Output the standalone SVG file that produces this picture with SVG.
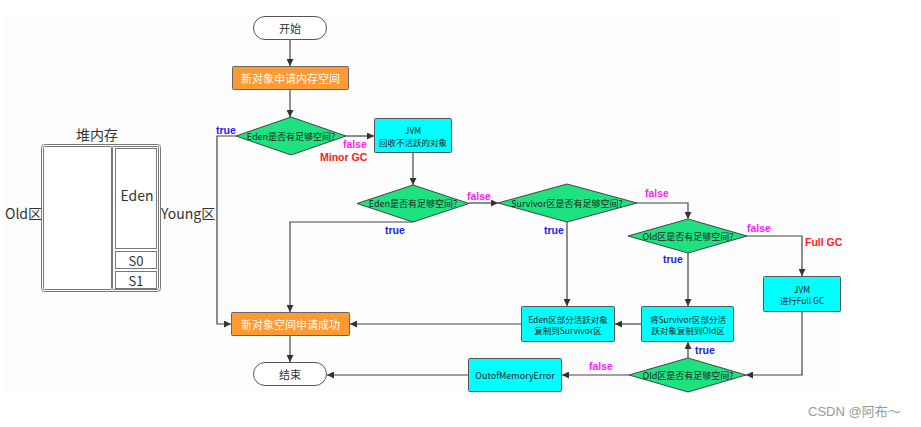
<svg xmlns="http://www.w3.org/2000/svg" width="921" height="427" viewBox="0 0 921 427">
<defs>
<marker id="ah" viewBox="0 0 10 10" refX="10" refY="5" markerWidth="7" markerHeight="7" markerUnits="userSpaceOnUse" orient="auto">
<path d="M0,0 L10,5 L0,10 z" fill="#333"/>
</marker>
<style>
text{font-family:"Noto Sans CJK SC","Noto Sans",sans-serif;}
.term{fill:#fff;stroke:#555;stroke-width:1;}
.orange{fill:#FF9933;stroke:#666;stroke-width:1;}
.cyan{fill:#00FFFF;stroke:#555;stroke-width:1;}
.dia{fill:#1DE27F;stroke:#444;stroke-width:1;}
.heap{fill:#fff;stroke:#777;stroke-width:1;}
.t{font-size:11px;fill:#333;text-anchor:middle;dominant-baseline:central;}
.tw{font-size:11px;fill:#fff;text-anchor:middle;dominant-baseline:central;}
.td{font-size:9px;fill:#222;text-anchor:middle;dominant-baseline:central;}
.tb{font-size:8.5px;fill:#222;text-anchor:middle;dominant-baseline:central;}
.h{font-size:14px;fill:#333;dominant-baseline:central;}
.lt,.lf,.lr{font-family:"Liberation Sans",Arial,sans-serif;font-size:10.5px;font-weight:bold;}
.lt{fill:#2222EE;}
.lf{fill:#FF22FF;}
.lr{fill:#FF2020;}
.c{fill:none;stroke:#444;stroke-width:1.2;}
</style>
</defs>
<rect x="0" y="0" width="921" height="427" fill="#fff"/>
<rect x="4" y="14" width="838" height="379" fill="#fdfdfd"/>

<g id="heap">
<text class="h" x="97" y="134" text-anchor="middle">堆内存</text>
<rect class="heap" x="41.5" y="144.5" width="119" height="147" rx="3"/>
<rect class="heap" x="43.5" y="146.5" width="68" height="143" rx="1"/>
<rect class="heap" x="112.5" y="146.5" width="46" height="143" rx="1"/>
<rect class="heap" x="115.5" y="148.5" width="41" height="100"/>
<rect class="heap" x="115.5" y="251.5" width="41" height="17"/>
<rect class="heap" x="115.5" y="271.5" width="41" height="17"/>
<text class="h" x="137" y="195" text-anchor="middle">Eden</text>
<text class="h" x="136" y="260" text-anchor="middle" style="font-size:13px">S0</text>
<text class="h" x="136" y="280" text-anchor="middle" style="font-size:13px">S1</text>
<text class="h" x="5" y="213">Old区</text>
<text class="h" x="161" y="213">Young区</text>
</g>

<g id="connectors">
<path class="c" d="M290,39 V66" marker-end="url(#ah)"/>
<path class="c" d="M290,90 V117" marker-end="url(#ah)"/>
<path class="c" d="M236,136 H217 V324 H231" marker-end="url(#ah)"/>
<path class="c" d="M346,136 H374" marker-end="url(#ah)"/>
<path class="c" d="M413,153 V185" marker-end="url(#ah)"/>
<path class="c" d="M413,222 H290 V312" marker-end="url(#ah)"/>
<path class="c" d="M469,203 H498" marker-end="url(#ah)"/>
<path class="c" d="M567,222 V306" marker-end="url(#ah)"/>
<path class="c" d="M637,203 H688 V219" marker-end="url(#ah)"/>
<path class="c" d="M688,253 V306" marker-end="url(#ah)"/>
<path class="c" d="M747,236 H802 V276" marker-end="url(#ah)"/>
<path class="c" d="M521,324 H350" marker-end="url(#ah)"/>
<path class="c" d="M641,324 H615" marker-end="url(#ah)"/>
<path class="c" d="M688,358 V342" marker-end="url(#ah)"/>
<path class="c" d="M802,312 V375 H746" marker-end="url(#ah)"/>
<path class="c" d="M629,375 H562" marker-end="url(#ah)"/>
<path class="c" d="M468,375 H327" marker-end="url(#ah)"/>
<path class="c" d="M290,336 V362" marker-end="url(#ah)"/>
<text class="lt" x="216" y="134">true</text>
<text class="lf" x="343" y="148">false</text>
<text class="lr" x="320" y="161">Minor GC</text>
<text class="lf" x="467" y="200">false</text>
<text class="lt" x="385" y="234">true</text>
<text class="lt" x="544" y="234">true</text>
<text class="lf" x="645" y="197">false</text>
<text class="lf" x="747" y="232">false</text>
<text class="lr" x="805" y="246">Full GC</text>
<text class="lt" x="663" y="263">true</text>
<text class="lt" x="695" y="354">true</text>
<text class="lf" x="589" y="370">false</text>
</g>

<g id="start">
<rect class="term" x="253.5" y="16.5" width="73" height="23" rx="11.5"/>
<text class="t" x="290" y="28">开始</text>
</g>
<g id="alloc">
<rect class="orange" x="232.5" y="66.5" width="116" height="23" rx="1"/>
<text class="tw" x="290.5" y="78">新对象申请内存空间</text>
</g>
<g id="d1">
<polygon class="dia" points="291,117 346,136 291,155 236,136"/>
<text class="td" x="291" y="136">Eden是否有足够空间?</text>
</g>
<g id="jvm1">
<rect class="cyan" x="374.5" y="118.5" width="77" height="34" rx="1"/>
<text class="tb" x="413" y="130">JVM</text>
<text class="tb" x="413" y="142">回收不活跃的对象</text>
</g>
<g id="d2">
<polygon class="dia" points="413,185 469,203.5 413,222 357,203.5"/>
<text class="td" x="413" y="203.5">Eden是否有足够空间?</text>
</g>
<g id="d3">
<polygon class="dia" points="567,184 637,203 567,222 498,203"/>
<text class="td" x="567" y="203">Survivor区是否有足够空间?</text>
</g>
<g id="d4">
<polygon class="dia" points="688,219 747,236 688,253 628,236"/>
<text class="td" x="688" y="236">Old区是否有足够空间?</text>
</g>
<g id="jvmfull">
<rect class="cyan" x="763.5" y="276.5" width="77" height="35" rx="1"/>
<text class="tb" x="802" y="289">JVM</text>
<text class="tb" x="802" y="299.5">进行Full GC</text>
</g>
<g id="edencopy">
<rect class="cyan" x="521.5" y="306.5" width="93" height="35" rx="1"/>
<text class="tb" x="568" y="319">Eden区部分活跃对象</text>
<text class="tb" x="568" y="329.5">复制到Survivor区</text>
</g>
<g id="survcopy">
<rect class="cyan" x="641.5" y="306.5" width="92" height="35" rx="1"/>
<text class="tb" x="688" y="319">将Survivor区部分活</text>
<text class="tb" x="688" y="330">跃对象复制到Old区</text>
</g>
<g id="d5">
<polygon class="dia" points="688,358 746,375 688,392 629,375"/>
<text class="td" x="688" y="375">Old区是否有足够空间?</text>
</g>
<g id="oom">
<rect class="cyan" x="468.5" y="358.5" width="93" height="33" rx="1"/>
<text class="tb" x="515" y="375" style="font-size:9px">OutofMemoryError</text>
</g>
<g id="success">
<rect class="orange" x="231.5" y="312.5" width="118" height="23" rx="1"/>
<text class="tw" x="290.5" y="324">新对象空间申请成功</text>
</g>
<g id="end">
<rect class="term" x="253.5" y="362.5" width="73" height="23" rx="11.5"/>
<text class="t" x="290" y="374">结束</text>
</g>
<text x="808" y="416" style="font-family:'Liberation Sans','Noto Sans CJK SC',sans-serif;font-size:13px;fill:#999">CSDN @阿布～</text>
</svg>
